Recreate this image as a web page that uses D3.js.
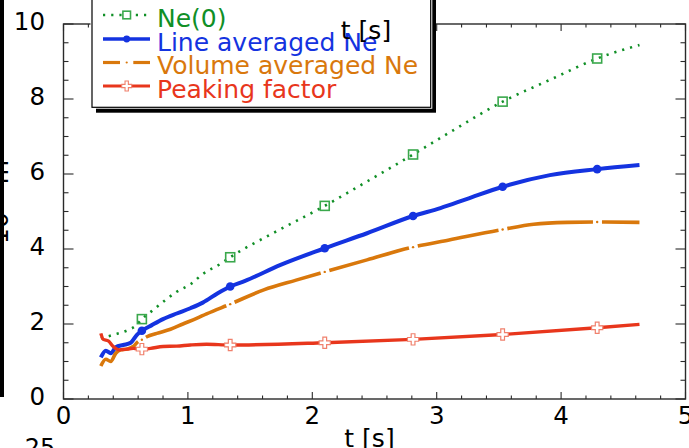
<!DOCTYPE html>
<html>
<head>
<meta charset="utf-8">
<script src="https://cdn.jsdelivr.net/npm/d3@7"></script>
<style>
  html, body { margin: 0; padding: 0; background: #fff; }
  svg { display: block; font-family: "DejaVu Sans", Verdana, sans-serif; }
</style>
</head>
<body>
<svg id="chart" width="689" height="448"></svg>
<script>
// Density evolution: central, line-averaged and volume-averaged Ne, and peaking factor
const tNe0 = [0.30, 0.40, 0.52, 0.58, 0.63, 0.72, 0.82, 0.91, 1.03, 1.11, 1.26, 1.34, 1.70, 2.10, 2.45, 2.81, 3.11, 3.53, 3.91, 4.29, 4.63];
const ne0  = [1.62, 1.71, 1.84, 1.95, 2.13, 2.37, 2.64, 2.86, 3.08, 3.31, 3.60, 3.78, 4.45, 5.15, 5.82, 6.52, 7.12, 7.93, 8.51, 9.08, 9.44];

const tLine = [0.30, 0.34, 0.38, 0.42, 0.48, 0.54, 0.59, 0.63, 0.71, 0.80, 0.91, 1.02, 1.12, 1.24, 1.34, 1.46, 1.74, 2.10, 2.44, 2.81, 3.03, 3.24, 3.53, 3.91, 4.29, 4.63];
const neLine = [1.11, 1.29, 1.22, 1.38, 1.44, 1.50, 1.71, 1.82, 1.97, 2.13, 2.28, 2.42, 2.57, 2.82, 3.00, 3.15, 3.57, 4.02, 4.42, 4.88, 5.09, 5.33, 5.66, 5.97, 6.13, 6.24];

const tVol = [0.30, 0.34, 0.38, 0.42, 0.46, 0.51, 0.56, 0.60, 0.63, 0.67, 0.75, 0.86, 0.96, 1.07, 1.15, 1.34, 1.61, 1.87, 2.10, 2.44, 2.81, 3.10, 3.53, 3.78, 4.05, 4.29, 4.63];
const neVol = [0.88, 1.06, 1.00, 1.22, 1.31, 1.33, 1.40, 1.53, 1.58, 1.66, 1.75, 1.86, 2.00, 2.15, 2.27, 2.53, 2.91, 3.17, 3.39, 3.71, 4.05, 4.24, 4.52, 4.66, 4.71, 4.72, 4.71];

const tPeak = [0.30, 0.32, 0.36, 0.40, 0.45, 0.51, 0.56, 0.63, 0.70, 0.80, 0.91, 1.02, 1.15, 1.34, 2.10, 2.81, 3.53, 4.29, 4.63];
const peak  = [1.75, 1.59, 1.55, 1.40, 1.31, 1.33, 1.35, 1.33, 1.35, 1.40, 1.41, 1.44, 1.46, 1.44, 1.50, 1.59, 1.72, 1.90, 1.99];

// times at which the series carry markers
const markerTimes = [0.63, 1.34, 2.10, 2.81, 3.53, 4.29];

const xTicks = [0, 1, 2, 3, 4, 5];
const yTicks = [0, 2, 4, 6, 8, 10];
const legendLabels = ["Ne(0)", "Line averaged Ne", "Volume averaged Ne", "Peaking factor"];

const C = {
  green: "#108f26", greenMark: "#3aa84c",
  blue: "#1433e0",
  orange: "#d9780c",
  red: "#e8361c", redMark: "#f0806c",
  axis: "#2a2a2a"
};

const svg = d3.select("#chart");
const x = d3.scaleLinear().domain([0, 5]).range([63.5, 685.5]);
const y = d3.scaleLinear().domain([0, 10]).range([399, 24]);

// clipped stray labels on the left margin
svg.append("rect").attr("x", 0).attr("y", 0).attr("width", 4).attr("height", 397).attr("fill", "#000");
svg.append("text").attr("transform", "translate(8,244) rotate(-90)")
  .attr("font-size", 25).attr("fill", "#000").text("10\u00b9\u2079 m\u207b\u00b3");
svg.append("text").attr("x", 40).attr("y", 456).attr("text-anchor", "middle")
  .attr("font-size", 24).attr("fill", "#000").text("25");

// frame and inward ticks
const frame = svg.append("g").attr("stroke", C.axis).attr("fill", "none");
frame.append("rect").attr("x", x(0)).attr("y", y(10)).attr("width", x(5) - x(0)).attr("height", y(0) - y(10)).attr("stroke-width", 1.4);

const xMinor = d3.range(0, 5.0001, 0.2);
xMinor.forEach(v => {
  const major = Math.abs(v - Math.round(v)) < 1e-6;
  const len = major ? 7 : 3.5;
  frame.append("line").attr("x1", x(v)).attr("x2", x(v)).attr("y1", y(0)).attr("y2", y(0) - len).attr("stroke-width", 1.1);
  frame.append("line").attr("x1", x(v)).attr("x2", x(v)).attr("y1", y(10)).attr("y2", y(10) + len).attr("stroke-width", 1.1);
});
const yMinor = d3.range(0, 10.0001, 0.5);
yMinor.forEach(v => {
  const major = Math.abs(v / 2 - Math.round(v / 2)) < 1e-6;
  const len = major ? 10 : 5;
  frame.append("line").attr("x1", x(0)).attr("x2", x(0) + len).attr("y1", y(v)).attr("y2", y(v)).attr("stroke-width", 1.1);
  frame.append("line").attr("x1", x(5)).attr("x2", x(5) - len).attr("y1", y(v)).attr("y2", y(v)).attr("stroke-width", 1.1);
});

// tick labels
svg.append("g").selectAll("text").data(xTicks).join("text")
  .attr("x", d => x(d)).attr("y", 424).attr("text-anchor", "middle")
  .attr("font-size", 24.5).attr("fill", "#000").text(d => d);
svg.append("g").selectAll("text").data(yTicks).join("text")
  .attr("x", 45).attr("y", d => y(d) + 5.5).attr("text-anchor", "end")
  .attr("font-size", 24.5).attr("fill", "#000").text(d => d);

svg.append("text").attr("x", 369.5).attr("y", 447).attr("text-anchor", "middle")
  .attr("font-size", 25).attr("fill", "#000").text("t [s]");

// series
const line = d3.line().x(d => x(d[0])).y(d => y(d[1])).curve(d3.curveMonotoneX);
const pairs = (t, v) => t.map((d, i) => [d, v[i]]);
const marks = (t, v) => pairs(t, v).filter(d => markerTimes.some(m => Math.abs(m - d[0]) < 1e-6));

const plot = svg.append("g");

// Ne(0): dotted green with hollow squares
plot.append("path").attr("d", line(pairs(tNe0, ne0))).attr("fill", "none")
  .attr("stroke", C.green).attr("stroke-width", 2.6).attr("stroke-dasharray", "2.2,6");
plot.append("g").selectAll("rect").data(marks(tNe0, ne0)).join("rect")
  .attr("x", d => x(d[0]) - 4.5).attr("y", d => y(d[1]) - 4.5).attr("width", 9).attr("height", 9)
  .attr("fill", "none").attr("stroke", C.greenMark).attr("stroke-width", 1.6);

// line averaged: solid blue with dots
plot.append("path").attr("d", line(pairs(tLine, neLine))).attr("fill", "none")
  .attr("stroke", C.blue).attr("stroke-width", 4).attr("stroke-linejoin", "round");
plot.append("g").selectAll("circle").data(marks(tLine, neLine)).join("circle")
  .attr("cx", d => x(d[0])).attr("cy", d => y(d[1])).attr("r", 4.3).attr("fill", C.blue);

// volume averaged: long dashes broken by a small dot at each marker time
const volPath = plot.append("path").attr("d", line(pairs(tVol, neVol))).attr("fill", "none")
  .attr("stroke", C.orange).attr("stroke-width", 3.6);
(function () {
  const node = volPath.node();
  const total = node.getTotalLength();
  const lenAtX = px => {
    let lo = 0, hi = total;
    for (let k = 0; k < 40; k++) {
      const mid = (lo + hi) / 2;
      if (node.getPointAtLength(mid).x < px) lo = mid; else hi = mid;
    }
    return (lo + hi) / 2;
  };
  const gap = 9;
  const cuts = markerTimes.map(m => lenAtX(x(m)));
  const dash = [];
  let prev = 0;
  cuts.forEach(c => { dash.push(c - gap / 2 - prev, gap); prev = c + gap / 2; });
  dash.push(total - prev + 50, 0);
  volPath.attr("stroke-dasharray", dash.join(","));
  plot.append("g").selectAll("circle").data(cuts).join("circle")
    .attr("cx", c => node.getPointAtLength(c).x).attr("cy", c => node.getPointAtLength(c).y)
    .attr("r", 1.2).attr("fill", C.orange);
})();

// peaking factor: solid red with hollow crosses
plot.append("path").attr("d", line(pairs(tPeak, peak))).attr("fill", "none")
  .attr("stroke", C.red).attr("stroke-width", 3.4).attr("stroke-linejoin", "round");
const cross = d3.symbol().type(d3.symbolCross).size(70);
plot.append("g").selectAll("path").data(marks(tPeak, peak)).join("path")
  .attr("transform", d => `translate(${x(d[0])},${y(d[1])})`).attr("d", cross)
  .attr("fill", "#fff").attr("stroke", C.redMark).attr("stroke-width", 1.2);

// legend box with drop shadow
const lg = svg.append("g");
lg.append("rect").attr("x", 96).attr("y", -10).attr("width", 340).attr("height", 122.7).attr("fill", "#000");
lg.append("rect").attr("x", 90.5).attr("y", -10).attr("width", 341.8).attr("height", 118.7).attr("fill", "#fff");
lg.append("rect").attr("x", 92).attr("y", -10).attr("width", 338.7).attr("height", 117.3)
  .attr("fill", "#fff").attr("stroke", "#000").attr("stroke-width", 1.2);

const rows = [
  { label: legendLabels[0], color: C.green, y: 15 },
  { label: legendLabels[1], color: C.blue, y: 39 },
  { label: legendLabels[2], color: C.orange, y: 62.5 },
  { label: legendLabels[3], color: C.red, y: 86 }
];
const lx0 = 103, lx1 = 150, lxm = 126.7;
// Ne(0)
lg.append("line").attr("x1", lx0).attr("x2", lx1).attr("y1", rows[0].y).attr("y2", rows[0].y)
  .attr("stroke", C.green).attr("stroke-width", 2.6).attr("stroke-dasharray", "2.2,6");
lg.append("rect").attr("x", lxm - 3.8).attr("y", rows[0].y - 3.8).attr("width", 7.6).attr("height", 7.6)
  .attr("fill", "#fff").attr("stroke", C.greenMark).attr("stroke-width", 1.6);
// line averaged
lg.append("line").attr("x1", lx0).attr("x2", lx1).attr("y1", rows[1].y).attr("y2", rows[1].y)
  .attr("stroke", C.blue).attr("stroke-width", 3.5);
lg.append("circle").attr("cx", lxm).attr("cy", rows[1].y).attr("r", 3.4).attr("fill", C.blue);
// volume averaged
lg.append("line").attr("x1", lx0).attr("x2", 120).attr("y1", rows[2].y).attr("y2", rows[2].y)
  .attr("stroke", C.orange).attr("stroke-width", 3.2);
lg.append("line").attr("x1", 133.3).attr("x2", lx1).attr("y1", rows[2].y).attr("y2", rows[2].y)
  .attr("stroke", C.orange).attr("stroke-width", 3.2);
lg.append("circle").attr("cx", lxm).attr("cy", rows[2].y).attr("r", 1.1).attr("fill", C.orange);
// peaking factor
lg.append("line").attr("x1", lx0).attr("x2", lx1).attr("y1", rows[3].y).attr("y2", rows[3].y)
  .attr("stroke", C.red).attr("stroke-width", 3.2);
lg.append("path").attr("transform", `translate(${lxm},${rows[3].y})`).attr("d", d3.symbol().type(d3.symbolCross).size(55))
  .attr("fill", "#fff").attr("stroke", C.redMark).attr("stroke-width", 1.1);

lg.selectAll("text.lab").data(rows).join("text").attr("class", "lab")
  .attr("x", 157).attr("y", d => d.y + 11.5).attr("font-size", 25).attr("fill", d => d.color)
  .text(d => d.label);

// axis title drawn over the legend at the top
svg.append("text").attr("x", 366).attr("y", 38.5).attr("text-anchor", "middle")
  .attr("font-size", 25).attr("fill", "#000").text("t [s]");
</script>
</body>
</html>
